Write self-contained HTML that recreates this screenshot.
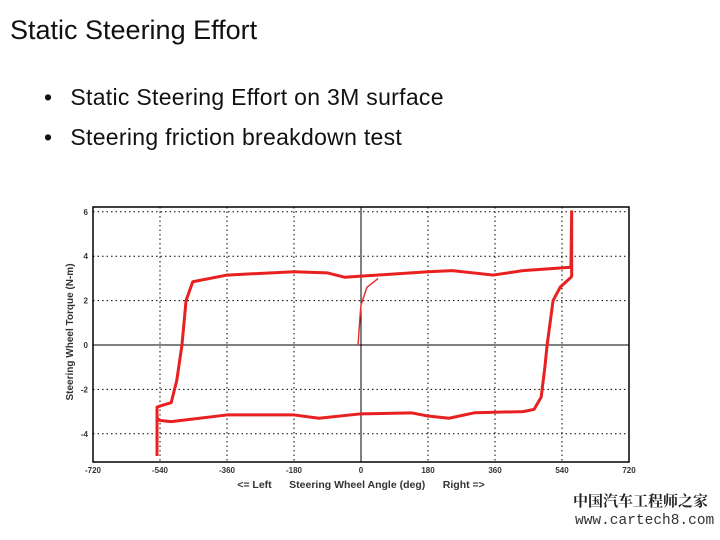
<!DOCTYPE html>
<html><head><meta charset="utf-8"><style>
body{margin:0;width:720px;height:540px;background:#fff;overflow:hidden;font-family:"Liberation Sans",sans-serif;position:relative}
.t{position:absolute;left:10px;top:15px;font-size:27px;color:#111;white-space:nowrap}
ul{position:absolute;left:44px;top:84px;margin:0;padding:0;list-style:none;font-size:23px;color:#111;white-space:nowrap;letter-spacing:0.3px}
li{height:40px}
li:before{content:"•";margin-right:18px}
.wm{position:absolute;left:573px;top:490px;font-size:15px;color:#222;font-family:"Noto Serif CJK SC",serif;white-space:nowrap;font-weight:bold}
.wm2{position:absolute;left:575px;top:513px;font-size:14.5px;color:#333;font-family:"Liberation Mono",monospace;white-space:nowrap}
</style></head><body>
<div class="t">Static Steering Effort</div>
<ul>
<li>Static Steering Effort on 3M surface</li>
<li>Steering friction breakdown test</li>
</ul>
<svg id="c" width="720" height="540" style="position:absolute;left:0;top:0"></svg>
<div class="wm">中国汽车工程师之家</div>
<div class="wm2">www.cartech8.com</div>
<script>
const xTicks=[-720,-540,-360,-180,0,180,360,540,720];
const yTicks=[-4,-2,0,2,4,6];
const loopAngle=[-548,-548,-540,-510,-495,-481,-470,-452,-360,-180,-91,-43,0,180,245,355,435,564,566,566,564,535,516,500,494,484,465,435,306,236,180,137,0,-113,-180,-360,-510,-540,-548];
const loopTorque=[-5.0,-2.8,-2.75,-2.6,-1.6,0,2.0,2.85,3.15,3.3,3.25,3.05,3.1,3.3,3.35,3.15,3.35,3.5,6.0,3.1,3.05,2.6,2.0,0,-1,-2.35,-2.9,-3.0,-3.05,-3.3,-3.2,-3.06,-3.1,-3.3,-3.15,-3.15,-3.45,-3.4,-3.3];
const initAngle=[-8,-3,0,16,46];
const initTorque=[0,1.2,1.8,2.6,3.0];
const L=93,R=629,T=207,B=462;
const X=v=>L+(v+720)/1440*(R-L);
const Y=v=>345-v*22.2;
const s=document.getElementById('c');const ns='http://www.w3.org/2000/svg';
function el(t,a,name){const e=document.createElementNS(ns,t);for(const k in a)e.setAttribute(k,a[k]);


s.appendChild(e);return e;}
el('rect',{x:L,y:T,width:R-L,height:B-T,fill:'#fff',stroke:'#000','stroke-width':1.5},'plot-area');
xTicks.forEach(v=>{if(v>-720&&v<720)el('line',{x1:X(v),x2:X(v),y1:T,y2:B,stroke:'#000','stroke-dasharray':'1.5,3',"stroke-width":1},'x-grid-'+v);
const t=el('text',{x:X(v),y:473,'font-size':8,'text-anchor':'middle','font-weight':'bold',fill:'#333'},'x-tick-'+v);t.textContent=v;});
yTicks.forEach(v=>{el('line',{x1:L,x2:R,y1:Y(v),y2:Y(v),stroke:'#000','stroke-dasharray':v==0?'':'1.5,3',"stroke-width":1},'y-grid-'+v);
const t=el('text',{x:88,y:Y(v)+3,'font-size':8,'text-anchor':'end','font-weight':'bold',fill:'#333'},'y-tick-'+v);t.textContent=v;});
el('line',{x1:X(0),x2:X(0),y1:T,y2:B,stroke:'#000','stroke-width':1},'zero-axis');
let p=loopAngle.map((a,i)=>X(a)+','+Y(loopTorque[i])).join(' ');
el('polyline',{points:p,fill:'none',stroke:'#e82020','stroke-width':3,'stroke-linejoin':'round'},'hysteresis-loop');
p=initAngle.map((a,i)=>X(a)+','+Y(initTorque[i])).join(' ');
el('polyline',{points:p,fill:'none',stroke:'#e83030','stroke-width':1.5},'initial-branch');
let t=el('text',{x:361,y:488,'font-size':10.5,'text-anchor':'middle','font-weight':'bold',fill:'#333'},'x-axis-title');t.textContent='<= Left      Steering Wheel Angle (deg)      Right =>';t.style.whiteSpace='pre';
t=el('text',{x:0,y:0,'font-size':10,'text-anchor':'middle','font-weight':'bold',fill:'#333',transform:'translate(73,332) rotate(-90)'},'y-axis-title');t.textContent='Steering Wheel Torque (N-m)';
</script>
</body></html>
